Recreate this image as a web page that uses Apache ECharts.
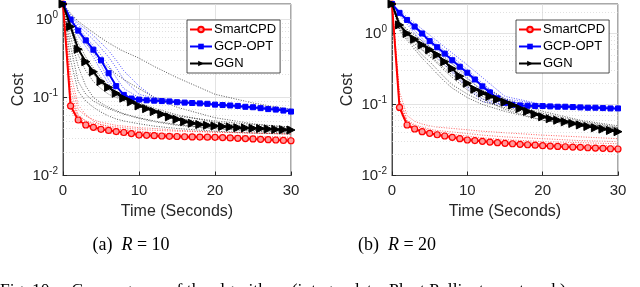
<!DOCTYPE html>
<html><head><meta charset="utf-8">
<script src="https://cdn.jsdelivr.net/npm/echarts@6/dist/echarts.min.js"></script>
<style>html,body{margin:0;padding:0;background:#fff}#c{width:640px;height:287px}</style>
</head><body><div id="c"></div>
<script>
// ---------- data ----------
const time = [0,1,2,3,4,5,6,7,8,9,10,11,12,13,14,15,16,17,18,19,20,21,22,23,24,25,26,27,28,29,30];
const runTime = [0,1,2,3,4,5,6,7,8,10,12,15,20,25,30];
const methods = ['SmartCPD','GCP-OPT','GGN'];
const panelCaptions = ['10','20'];
const xTicks = [0,10,20,30];

// (a) R = 10
const smartA = [1.58,0.078,0.0515,0.0444,0.0415,0.0391,0.0378,0.0366,0.0356,0.0345,0.033,0.0327,0.0324,0.0321,0.0318,0.0316,0.0314,0.0312,0.0311,0.031,0.0309,0.0306,0.0303,0.030,0.0297,0.0294,0.0291,0.0288,0.0285,0.0282,0.0279];
const gcpA   = [1.58,1.0,0.72,0.54,0.41,0.30,0.205,0.14,0.108,0.097,0.094,0.092,0.091,0.09,0.089,0.087,0.086,0.085,0.084,0.083,0.081,0.08,0.079,0.078,0.076,0.075,0.073,0.071,0.07,0.068,0.066];
const ggnA   = [1.58,0.81,0.415,0.288,0.214,0.16,0.135,0.113,0.098,0.088,0.078,0.072,0.066,0.061,0.0565,0.0525,0.049,0.0467,0.045,0.044,0.0431,0.0425,0.042,0.041,0.0407,0.0403,0.040,0.0395,0.039,0.0387,0.0383];

const smartRunsA = [
 [1.58,0.12,0.06,0.05,0.045,0.042,0.04,0.039,0.038,0.036,0.035,0.034,0.033,0.032,0.031],
 [1.58,0.09,0.055,0.048,0.044,0.041,0.039,0.037,0.036,0.035,0.034,0.033,0.032,0.031,0.030],
 [1.58,0.15,0.07,0.058,0.052,0.048,0.046,0.044,0.043,0.041,0.040,0.038,0.036,0.035,0.034],
 [1.58,0.07,0.048,0.042,0.039,0.037,0.035,0.034,0.033,0.032,0.031,0.030,0.029,0.028,0.027],
 [1.58,0.2,0.08,0.06,0.05,0.045,0.042,0.04,0.039,0.037,0.035,0.033,0.031,0.03,0.029],
 [1.58,0.1,0.058,0.05,0.047,0.045,0.043,0.042,0.041,0.039,0.038,0.037,0.036,0.035,0.034]
];
const gcpRunsA = [
 [1.58,1.05,0.78,0.6,0.46,0.35,0.26,0.18,0.13,0.1,0.095,0.09,0.083,0.076,0.07],
 [1.58,0.95,0.68,0.5,0.37,0.26,0.17,0.12,0.1,0.093,0.09,0.087,0.08,0.074,0.067],
 [1.58,1.1,0.85,0.68,0.55,0.43,0.33,0.24,0.17,0.11,0.098,0.092,0.085,0.078,0.071],
 [1.58,0.9,0.62,0.45,0.33,0.22,0.15,0.11,0.095,0.09,0.088,0.085,0.079,0.072,0.066],
 [1.58,1.15,0.9,0.75,0.62,0.5,0.4,0.3,0.22,0.14,0.1,0.09,0.082,0.075,0.069],
 [1.58,1.0,0.75,0.56,0.42,0.3,0.2,0.14,0.11,0.096,0.09,0.086,0.081,0.075,0.065]
];
const ggnRunsA = [
 [1.58,0.3,0.12,0.09,0.075,0.065,0.058,0.053,0.05,0.046,0.043,0.04,0.037,0.035,0.034],
 [1.58,0.6,0.25,0.14,0.1,0.085,0.075,0.068,0.062,0.055,0.05,0.045,0.04,0.037,0.035],
 [1.58,0.9,0.5,0.33,0.24,0.18,0.14,0.115,0.1,0.085,0.073,0.06,0.048,0.042,0.039],
 [1.58,1.0,0.7,0.5,0.38,0.3,0.24,0.2,0.17,0.13,0.1,0.075,0.055,0.046,0.041],
 [1.58,1.2,0.95,0.8,0.68,0.58,0.5,0.44,0.39,0.32,0.25,0.18,0.11,0.085,0.07],
 [1.58,0.75,0.35,0.22,0.16,0.13,0.11,0.1,0.09,0.078,0.067,0.055,0.045,0.04,0.037],
 [1.58,0.45,0.16,0.11,0.09,0.08,0.072,0.066,0.061,0.054,0.049,0.044,0.04,0.038,0.036],
 [1.58,0.85,0.45,0.28,0.2,0.15,0.125,0.105,0.092,0.078,0.068,0.058,0.05,0.045,0.042]
];

// (b) R = 20
const smartB = [2.6,0.091,0.0514,0.0452,0.0414,0.0393,0.0375,0.036,0.0345,0.033,0.0316,0.031,0.0303,0.0296,0.029,0.0284,0.028,0.0275,0.0271,0.0267,0.0263,0.026,0.0257,0.0254,0.0251,0.0249,0.0246,0.0243,0.0241,0.0238,0.0236];
const gcpB   = [2.6,1.95,1.55,1.25,1.0,0.78,0.64,0.52,0.42,0.34,0.28,0.225,0.18,0.148,0.122,0.106,0.099,0.097,0.096,0.095,0.095,0.094,0.093,0.093,0.092,0.091,0.09,0.09,0.089,0.088,0.088];
const ggnB   = [2.6,1.32,1.0,0.83,0.69,0.59,0.50,0.40,0.32,0.25,0.199,0.164,0.145,0.13,0.118,0.108,0.098,0.088,0.08,0.073,0.067,0.063,0.06,0.057,0.054,0.0515,0.049,0.047,0.045,0.043,0.0414];

const smartRunsB = [
 [2.6,0.12,0.06,0.052,0.048,0.045,0.043,0.042,0.041,0.039,0.037,0.035,0.033,0.031,0.03],
 [2.6,0.1,0.055,0.047,0.043,0.04,0.038,0.037,0.036,0.034,0.032,0.03,0.028,0.027,0.026],
 [2.6,0.15,0.07,0.058,0.053,0.05,0.048,0.047,0.046,0.044,0.042,0.04,0.037,0.035,0.033],
 [2.6,0.085,0.05,0.043,0.04,0.038,0.036,0.034,0.033,0.031,0.03,0.028,0.026,0.025,0.024],
 [2.6,0.11,0.058,0.05,0.046,0.043,0.041,0.04,0.038,0.036,0.034,0.032,0.03,0.029,0.028],
 [2.6,0.095,0.052,0.045,0.041,0.039,0.037,0.035,0.034,0.033,0.031,0.029,0.027,0.026,0.025]
];
const gcpRunsB = [
 [2.6,2.0,1.6,1.3,1.05,0.85,0.7,0.57,0.47,0.31,0.2,0.11,0.097,0.093,0.09],
 [2.6,1.9,1.5,1.2,0.95,0.74,0.59,0.47,0.38,0.24,0.15,0.1,0.094,0.091,0.088],
 [2.6,2.1,1.7,1.4,1.15,0.95,0.78,0.64,0.53,0.36,0.24,0.13,0.1,0.095,0.092],
 [2.6,1.85,1.45,1.1,0.85,0.65,0.5,0.39,0.3,0.18,0.12,0.098,0.093,0.09,0.087],
 [2.6,2.0,1.55,1.25,1.0,0.8,0.66,0.54,0.44,0.29,0.19,0.12,0.1,0.095,0.09],
 [2.6,1.8,1.35,1.0,0.78,0.6,0.46,0.36,0.28,0.17,0.11,0.097,0.092,0.089,0.086]
];
const ggnRunsB = [
 [2.6,1.2,0.9,0.72,0.58,0.47,0.38,0.3,0.24,0.16,0.12,0.085,0.06,0.05,0.044],
 [2.6,1.4,1.1,0.88,0.72,0.6,0.5,0.42,0.34,0.23,0.16,0.11,0.075,0.058,0.048],
 [2.6,1.1,0.8,0.6,0.45,0.35,0.27,0.21,0.17,0.125,0.1,0.08,0.06,0.05,0.043],
 [2.6,1.3,1.0,0.8,0.65,0.53,0.44,0.36,0.29,0.2,0.14,0.1,0.07,0.055,0.045],
 [2.6,1.15,0.85,0.66,0.5,0.4,0.31,0.24,0.19,0.14,0.11,0.09,0.066,0.053,0.046],
 [2.6,1.45,1.15,0.95,0.78,0.65,0.54,0.45,0.37,0.26,0.18,0.12,0.08,0.06,0.05],
 [2.6,1.25,0.95,0.75,0.6,0.49,0.4,0.32,0.26,0.18,0.13,0.095,0.068,0.055,0.047]
];

const yMaxA = 1.58, yMaxB = 2.6;
const minorGrid = [0.02,0.03,0.04,0.05,0.06,0.07,0.08,0.09,0.2,0.3,0.4,0.5,0.6,0.7,0.8,0.9,2,3,4,5,6,7,8,9];

// ---------- chart ----------
const FONT = '"Liberation Sans", Arial, sans-serif';
const SERIF = '"Liberation Serif", "Times New Roman", serif';
const AX = '#262626';
const colors = {'SmartCPD':'#ff0000','GCP-OPT':'#0000ff','GGN':'#000000'};
const runColors = {'SmartCPD':'rgba(255,40,40,0.9)','GCP-OPT':'rgba(20,20,255,0.9)','GGN':'rgba(20,20,20,0.9)'};

const chart = echarts.init(document.getElementById('c'), null, {renderer:'canvas'});

function pair(xs, ys){ return ys.map((v,i)=>[xs[i], v]); }

function yLabel(v){
  const e = Math.log10(v);
  if (Math.abs(e - Math.round(e)) > 1e-6) return '';
  return '{b|10}{s|' + Math.round(e) + '}';
}

function xAxisCfg(gi){
  return {
    type:'value', gridIndex:gi, min:0, max:30, interval:10,
    name:'Time (Seconds)', nameLocation:'middle', nameGap:27,
    nameTextStyle:{fontFamily:FONT, fontSize:16, color:'#262626'},
    axisLine:{show:true, lineStyle:{color:AX, width:0.8}},
    axisTick:{show:true, inside:true, length:4, lineStyle:{color:AX}},
    axisLabel:{fontFamily:FONT, fontSize:15, color:'#262626', margin:8},
    splitLine:{show:true, lineStyle:{color:'#dcdcdc', width:0.8}}
  };
}
function yAxisCfg(gi, maxV){
  return {
    type:'log', logBase:10, gridIndex:gi, min:0.01, max:maxV,
    name:'Cost', nameLocation:'middle', nameGap:36,
    nameTextStyle:{fontFamily:FONT, fontSize:16, color:'#262626'},
    axisLine:{show:true, lineStyle:{color:AX, width:0.8}},
    axisTick:{show:true, inside:true, length:4, lineStyle:{color:AX}},
    axisLabel:{fontFamily:FONT, color:'#262626', margin:5, formatter:yLabel,
      rich:{b:{fontFamily:FONT, fontSize:15, color:'#262626'},
            s:{fontFamily:FONT, fontSize:10, color:'#262626', padding:[0,0,9,0]}}},
    splitLine:{show:true, lineStyle:{color:'#dcdcdc', width:0.8}}
  };
}

const series = [];
function addPanel(gi, runsByMethod, mains, maxV){
  series.push({
    type:'line', xAxisIndex:gi, yAxisIndex:gi, data:[], z:1, silent:true,
    markLine:{silent:true, symbol:'none', label:{show:false},
      lineStyle:{color:'#d4d4d4', type:[1,2], width:0.7},
      data:minorGrid.filter(v=>v<maxV).map(v=>({yAxis:v}))}
  });
  methods.forEach((m,mi)=>{
    runsByMethod[mi].forEach(r=>{
      series.push({
        type:'line', name:m+' run', xAxisIndex:gi, yAxisIndex:gi, z:2,
        data:pair(runTime, r), showSymbol:false, symbol:'none', silent:true,
        lineStyle:{color:runColors[m], width:0.8, type:[1,1.5]}
      });
    });
  });
  const sym = {'SmartCPD':'circle','GCP-OPT':'rect','GGN':'triangle'};
  methods.forEach((m,mi)=>{
    const s = {
      type:'line', name:m, xAxisIndex:gi, yAxisIndex:gi, z:5+mi,
      data:pair(time, mains[mi]),
      symbol:sym[m], showSymbol:true, showAllSymbol:true,
      lineStyle:{color:colors[m], width:2},
      itemStyle:{color:colors[m], borderColor:colors[m]}
    };
    if (m==='SmartCPD'){ s.symbolSize=6; s.itemStyle={color:'#ff9a9a', borderColor:colors[m], borderWidth:1.2}; }
    if (m==='GCP-OPT'){ s.symbolSize=5; }
    if (m==='GGN'){ s.symbolSize=8; s.symbolRotate=-90; }
    series.push(s);
  });
}
addPanel(0, [smartRunsA, gcpRunsA, ggnRunsA], [smartA, gcpA, ggnA], yMaxA);
addPanel(1, [smartRunsB, gcpRunsB, ggnRunsB], [smartB, gcpB, ggnB], yMaxB);

function legendCfg(left){
  return {
    data:methods, left:left, top:20, orient:'vertical',
    itemWidth:22, itemHeight:7, itemGap:4, padding:[3,4,3,2],
    backgroundColor:'#fff', borderColor:AX, borderWidth:0.8,
    textStyle:{fontFamily:FONT, fontSize:13, color:'#000', padding:[0,0,0,-3]},
    selectedMode:false, z:20
  };
}

const capRich = {n:{fontFamily:SERIF, fontSize:18, fill:'#000', color:'#000'},
                 i:{fontFamily:SERIF, fontSize:18, fontStyle:'italic', fill:'#000', color:'#000'}};

chart.setOption({
  animation:false,
  backgroundColor:'#fff',
  grid:[
    {left:63, top:4, width:228, height:171.5, show:true, borderColor:AX, borderWidth:0.8, backgroundColor:'transparent'},
    {left:392, top:4, width:226, height:171.5, show:true, borderColor:AX, borderWidth:0.8, backgroundColor:'transparent'}
  ],
  xAxis:[xAxisCfg(0), xAxisCfg(1)],
  yAxis:[yAxisCfg(0, yMaxA), yAxisCfg(1, yMaxB)],
  legend:[legendCfg(187), legendCfg(516)],
  series:series,
  graphic:[
    {type:'text', style:{
      text:'{n|(a)  }{i|R}{n| = ' + panelCaptions[0] + '}', x:131, y:245, align:'center', verticalAlign:'middle', rich:capRich}},
    {type:'text', style:{
      text:'{n|(b)  }{i|R}{n| = ' + panelCaptions[1] + '}', x:397, y:245, align:'center', verticalAlign:'middle', rich:capRich}},
    {type:'text', style:{
      text:'Fig. 10.    Convergence of the algorithms (integer data: Plant Pollinator network)',
      x:0, y:281, fontFamily:SERIF, fontSize:17.5, fill:'#000'}}
  ]
});
</script></body></html>
